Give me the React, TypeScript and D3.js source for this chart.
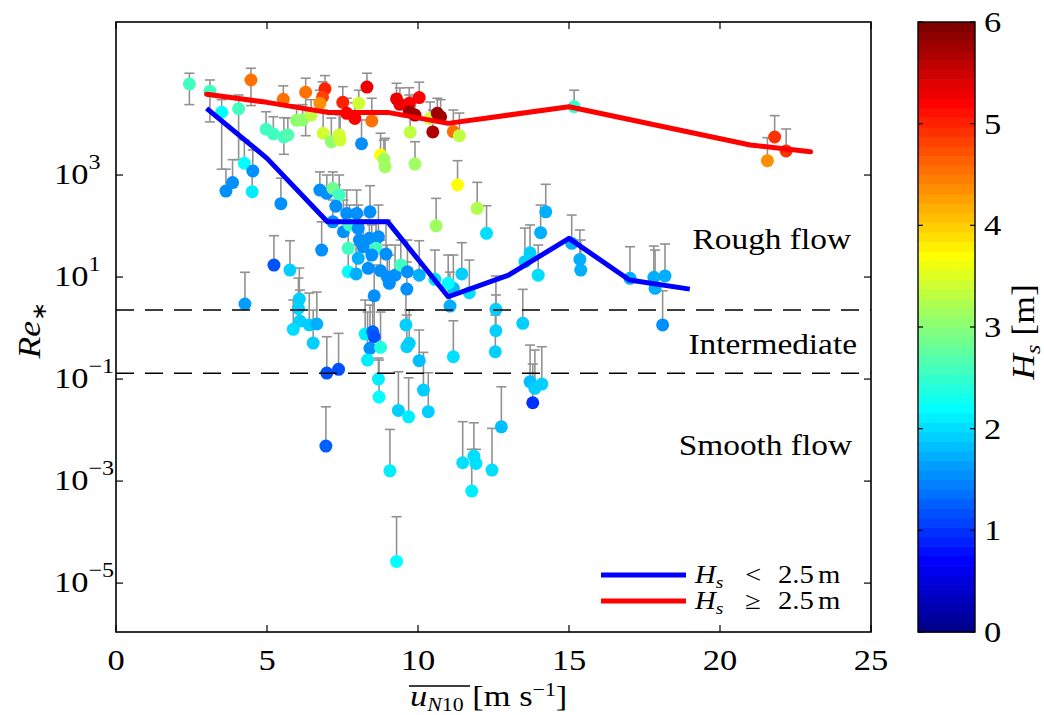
import React from "react";
import * as d3 from "d3";

// ---------- data ----------
const U = [2.43,3.11,3.50,4.06,4.47,4.25,4.53,4.51,3.86,3.64,5.46,4.97,5.21,5.56,5.69,5.54,6.28,5.98,6.18,6.46,6.92,6.84,6.75,6.86,7.13,7.39,7.42,7.51,8.04,7.91,8.31,8.13,7.64,8.47,9.29,9.40,9.71,10.04,9.71,9.90,10.40,10.64,10.75,10.49,11.17,11.37,9.74,8.76,8.91,8.87,9.90,11.31,11.96,10.60,14.23,15.17,12.27,14.06,21.81,21.57,22.19,
6.75,6.98,7.18,7.39,7.28,7.18,7.64,7.97,8.41,7.53,7.73,8.02,8.06,7.69,8.19,8.39,8.69,8.61,8.47,8.94,8.02,6.81,7.69,7.95,8.35,8.76,8.98,9.24,9.05,9.43,9.65,10.04,9.63,8.55,5.76,5.23,4.27,6.07,6.04,6.09,5.87,6.40,6.65,6.53,6.98,7.37,6.95,
8.25,8.50,8.55,8.41,8.76,8.33,8.69,8.71,9.60,9.71,9.63,10.04,9.35,9.69,10.18,10.34,9.07,9.29,11.48,11.85,11.92,11.78,12.45,12.76,13.71,13.54,13.98,15.09,15.36,15.39,17.02,17.81,17.85,18.18,18.10,11.45,11.17,11.70,11.06,11.0,10.56,12.58,12.58,12.56,13.47,11.17,13.71,13.87,14.10,13.80];
const RE = [6.1e4,4.4e4,1.7e4,2.0e4,7.3e4,1.7e3,1.2e3,470,710,485,274,7.9e3,6.4e3,5.6e3,6.1e3,3.05e4,4.2e4,1.18e4,1.2e4,1.5e4,4.9e4,3.4e4,2.55e4,6.6e3,4.5e3,6.1e3,4.85e3,2.66e4,2.55e4,1.29e4,5.3e4,4.1e3,1.62e4,1.15e4,3.1e4,2.43e4,2.55e4,3.3e4,1.74e4,1.5e4,1.29e4,1.62e4,1.39e4,7.0e3,7.1e3,5.9e3,6.9e3,2.47e3,1.46e3,2.06e3,1.64e3,637,222,101,190,2.18e4,71.9,74,5.56e3,1.91e3,2.96e3,
508,438,548,405,245,121,177,177,190,77.3,105,90.2,53.1,36.6,39.3,57.4,61.7,36.6,27.0,28.2,23.3,33.8,12.7,11.5,14.8,13.3,10.1,10.9,7.52,17.2,12.7,10.9,5.82,4.3,13.7,17.2,2.96,3.71,2.43,1.37,0.944,1.15,1.2,0.508,0.131,0.155,0.00485,
0.762,0.845,0.675,0.4,0.419,0.236,0.1,0.0444,1.15,0.501,0.43,0.229,0.0243,0.0182,0.0608,0.0229,0.00159,2.66e-5,0.00229,0.00309,0.00222,0.000637,0.00164,0.0116,29.9,20,10.9,45.8,22.2,13.7,9.44,9.86,6.0,10.5,1.15,11.5,6.0,4.92,2.7,7.52,9.02,2.33,0.885,0.343,1.24,0.274,0.0885,0.0658,0.0798,0.0343];
const HS = [2.6,2.6,2.2,2.6,4.5,2.2,1.5,2.1,1.5,1.5,1.5,2.6,2.6,2.6,2.7,4.5,4.5,3.0,3.0,3.3,5.0,4.8,4.4,3.4,3.0,3.4,3.4,5.0,3.4,5.2,5.3,1.5,5.2,4.5,5.3,5.3,5.2,5.2,5.8,5.8,3.4,5.8,5.8,5.7,4.5,3.3,3.3,3.7,3.1,3.1,3.1,3.7,3.2,3.1,1.7,2.5,2.0,1.7,4.9,4.4,4.9,
1.5,1.5,2.9,2.6,1.5,1.5,1.5,1.5,1.5,1.5,2.6,1.5,1.5,2.6,1.5,1.5,1.5,2.6,1.5,1.5,1.7,1.5,2.2,1.7,1.5,1.5,1.5,1.5,1.5,2.6,1.5,1.7,1.5,1.5,1.9,1.2,1.6,1.9,1.9,1.9,2.0,1.9,1.7,1.9,1.2,1.2,1.3,
2.1,1.3,1.2,1.5,2.4,2.1,2.1,2.2,1.9,1.9,1.9,1.8,1.9,2.1,1.9,1.9,2.1,2.2,2.0,2.0,2.0,2.1,2.0,1.8,1.9,1.9,2.0,1.7,1.7,1.7,1.7,1.7,1.7,1.7,1.5,1.9,1.8,2.0,1.7,2.2,2.0,1.9,1.9,1.9,1.9,2.0,1.8,1.9,1.9,1.0];
const RE_HI = [9.9e4,7.3e4,3.0e4,3.7e4,1.24e5,4.9e3,3.1e3,1.25e3,2.0e3,1.3e3,870,1.74e4,1.39e4,1.33e4,1.31e4,5.6e4,7.9e4,2.36e4,2.4e4,3.0e4,8.9e4,6.7e4,4.6e4,1.88e4,1.31e4,1.72e4,1.5e4,5.4e4,4.6e4,2.6e4,9.9e4,1.2e4,3.2e4,3.2e4,6.3e4,5.1e4,5.15e4,6.6e4,3.7e4,3.4e4,2.7e4,3.2e4,3.0e4,1.88e4,1.88e4,1.64e4,1.72e4,6.6e3,5.25e3,4.85e3,4.5e3,1.91e3,719,349,658,4.6e4,250,258,1.46e4,5.4e3,8.0e3,
1150,1000,1150,1000,637,324,508,508,617,324,258,258,164,105,131,206,258,131,105,131,83.5,121,42.4,42.4,53.1,53.1,42.4,42.4,27,53.1,53.1,51.5,19.7,17.2,51.5,64.6,12.4,15.0,9.55,5.56,3.54,4.85,5.08,2.25,0.675,0.787,0.0286,
3.54,4.05,3.54,2.82,2.06,2.06,0.258,0.236,5.56,2.25,1.8,0.914,0.139,0.106,0.334,0.133,0.0103,2.0e-4,0.0146,0.0139,0.00419,0.00419,0.0108,0.0707,105,91.3,42.4,164,83.5,53.1,39.3,40.5,33.8,44.4,5.38,47.1,27,21.5,12.5,27,33.8,10.5,4.44,1.8,5.74,1.39,0.464,0.371,0.43,0.197];
const RE_LO: Record<number, number> = { 0: 2.4e4, 1: 1.1e4, 2: 1.3e3, 3: 2.0e3, 4: 2.3e4, 13: 2.55e3, 16: 5.9e3 };

// binned mean lines
const LOW_U = [3, 5, 7, 9, 11, 13, 15, 17, 19];
const LOW_RE = [20300, 2120, 121, 121, 4.11, 10.9, 57.4, 8.73, 5.8];
const HIGH_U = [3, 5, 7, 9, 11, 15, 21, 23];
const HIGH_RE = [38200, 26600, 16900, 16900, 10300, 21800, 3870, 2860];

const X_TICKS = [0, 5, 10, 15, 20, 25];
const Y_TICK_EXP = [-5, -3, -1, 1, 3];
const CB_TICKS = [0, 1, 2, 3, 4, 5, 6];
const REGIME_LIMITS = [2.25, 0.13];
const REGIME_LABELS = ["Rough flow", "Intermediate", "Smooth flow"];
const LEGEND = [{ op: "<", color: "#0000ff" }, { op: "≥", color: "#ff0000" }];

// ---------- helpers ----------
function jet(m: number): string[] {
  const n = Math.ceil(m / 4);
  const u: number[] = [];
  for (let i = 1; i <= n; i++) u.push(i / n);
  for (let i = 1; i < n; i++) u.push(1);
  for (let i = n; i >= 1; i--) u.push(i / n);
  const gOff = Math.ceil(n / 2) - (m % 4 === 1 ? 1 : 0);
  const J = Array.from({ length: m }, () => [0, 0, 0]);
  u.forEach((v, k) => {
    const g = gOff + k + 1;
    const r = g + n;
    const b = g - n;
    if (g >= 1 && g <= m) J[g - 1][1] = v;
    if (r >= 1 && r <= m) J[r - 1][0] = v;
    if (b >= 1 && b <= m) J[b - 1][2] = v;
  });
  return J.map(([r, g, b]) => `rgb(${Math.round(r * 255)},${Math.round(g * 255)},${Math.round(b * 255)})`);
}
const CMAP = jet(64);
const colorOf = (h: number) => CMAP[Math.max(0, Math.min(63, Math.floor((h / 6) * 64)))];

const FONT = "'Liberation Serif', 'Times New Roman', serif";
const SX = 1.15;

function T({ x, y, size, anchor = "start", rotate = 0, children }: any) {
  return (
    <g transform={`translate(${x},${y}) rotate(${rotate}) scale(${SX},1)`}>
      <text fontFamily={FONT} fontSize={size} textAnchor={anchor}>
        {children}
      </text>
    </g>
  );
}

export default function App() {
  const L = 116, R = 871, TOP = 22, B = 632;
  const x = d3.scaleLinear().domain([0, 25]).range([L, R]);
  const y = d3.scaleLog().domain([1.1e-6, 1e6]).range([B, TOP]);
  const cb = d3.scaleLinear().domain([0, 6]).range([B, TOP]);
  const CB0 = 918, CB1 = 975;

  const line = d3.line<[number, number]>().x((d) => x(d[0])).y((d) => y(d[1]));
  const lowPath = line(LOW_U.map((u, i) => [u, LOW_RE[i]]));
  const highPath = line(HIGH_U.map((u, i) => [u, HIGH_RE[i]]));

  const cap = 5;
  const tickLen = 7;

  return (
    <svg width={1044} height={715} style={{ display: "block", position: "absolute", left: 0, top: 0 }}>
      <rect x={0} y={0} width={1044} height={715} fill="#fff" />

      {/* error bars */}
      <g stroke="#929292" strokeWidth={1.6} fill="none">
        {U.map((u, i) => {
          const cx = x(u);
          const lo = RE_LO[i];
          const y0 = y(lo !== undefined ? lo : RE[i]);
          const y1 = y(RE_HI[i]);
          return (
            <g key={i}>
              <line x1={cx} x2={cx} y1={y0} y2={y1} />
              <line x1={cx - cap} x2={cx + cap} y1={y1} y2={y1} />
              {lo !== undefined && <line x1={cx - cap} x2={cx + cap} y1={y0} y2={y0} />}
            </g>
          );
        })}
      </g>

      {/* scatter points */}
      <g>
        {U.map((u, i) => (
          <circle key={i} cx={x(u)} cy={y(RE[i])} r={6.5} fill={colorOf(HS[i])} />
        ))}
      </g>

      {/* mean lines */}
      <path d={lowPath || ""} fill="none" stroke="#0000ff" strokeWidth={5} strokeLinejoin="round" />
      <path d={highPath || ""} fill="none" stroke="#ff0000" strokeWidth={5} strokeLinejoin="round" strokeLinecap="round" />

      {/* regime limits */}
      {REGIME_LIMITS.map((v, i) => (
        <line key={i} x1={L} x2={R} y1={y(v)} y2={y(v)} stroke="#000" strokeWidth={1.5} strokeDasharray="18 11" />
      ))}

      {/* regime labels */}
      <T x={851} y={249} size={29} anchor="end">{REGIME_LABELS[0]}</T>
      <T x={857} y={354} size={29} anchor="end">{REGIME_LABELS[1]}</T>
      <T x={852} y={455} size={29} anchor="end">{REGIME_LABELS[2]}</T>

      {/* legend */}
      {LEGEND.map((d, i) => {
        const ly = 575 + i * 26;
        return (
          <g key={i}>
            <line x1={601} x2={686} y1={ly} y2={ly} stroke={d.color} strokeWidth={5} />
            <T x={695} y={ly + 8} size={25}>
              <tspan fontStyle="italic">H</tspan>
              <tspan fontStyle="italic" fontSize={17} dy={5}>s</tspan>
            </T>
            <T x={745} y={ly + 8} size={25}>{d.op}</T>
            <T x={778} y={ly + 8} size={25}>2.5</T>
            <T x={818} y={ly + 8} size={25}>m</T>
          </g>
        );
      })}

      {/* axes frame */}
      <rect x={L} y={TOP} width={R - L} height={B - TOP} fill="none" stroke="#000" strokeWidth={1.6} />
      {X_TICKS.map((t) => (
        <g key={t}>
          <line x1={x(t)} x2={x(t)} y1={B} y2={B - tickLen} stroke="#000" strokeWidth={1.2} />
          <line x1={x(t)} x2={x(t)} y1={TOP} y2={TOP + tickLen} stroke="#000" strokeWidth={1.2} />
          <T x={x(t)} y={670} size={30} anchor="middle">{String(t)}</T>
        </g>
      ))}
      {Y_TICK_EXP.map((e) => {
        const yy = y(Math.pow(10, e));
        return (
          <g key={e}>
            <line x1={L} x2={L + tickLen} y1={yy} y2={yy} stroke="#000" strokeWidth={1.2} />
            <line x1={R} x2={R - tickLen} y1={yy} y2={yy} stroke="#000" strokeWidth={1.2} />
            <T x={54} y={yy + 9} size={30}>
              <tspan>10</tspan>
              <tspan fontSize={21} dy={-15}>{e < 0 ? "−" + Math.abs(e) : String(e)}</tspan>
            </T>
          </g>
        );
      })}

      {/* axis labels */}
      <T x={40} y={330} size={31} anchor="middle" rotate={-90}>
        <tspan fontStyle="italic">Re</tspan>
        <tspan fontSize={20} dy={6}>∗</tspan>
      </T>
      <g>
        <line x1={409} x2={470} y1={686} y2={686} stroke="#000" strokeWidth={1.3} />
        <T x={410} y={706} size={30}>
          <tspan fontStyle="italic">u</tspan>
          <tspan fontStyle="italic" fontSize={19} dy={5}>N</tspan>
          <tspan fontSize={19}>10</tspan>
          <tspan dy={-5}> [m s</tspan>
          <tspan fontSize={19} dy={-10}>−1</tspan>
          <tspan dy={10}>]</tspan>
        </T>
      </g>

      {/* colorbar */}
      <g>
        {CMAP.map((c, i) => (
          <rect key={i} x={CB0} width={CB1 - CB0} y={cb(((i + 1) * 6) / 64)} height={cb((i * 6) / 64) - cb(((i + 1) * 6) / 64) + 0.6} fill={c} />
        ))}
        <rect x={CB0} y={TOP} width={CB1 - CB0} height={B - TOP} fill="none" stroke="#000" strokeWidth={1.4} />
        {CB_TICKS.map((t) => (
          <g key={t}>
            <line x1={CB0} x2={CB0 + 5} y1={cb(t)} y2={cb(t)} stroke="#000" strokeWidth={1.2} />
            <line x1={CB1} x2={CB1 - 5} y1={cb(t)} y2={cb(t)} stroke="#000" strokeWidth={1.2} />
            <T x={984} y={cb(t) + 10} size={30}>{String(t)}</T>
          </g>
        ))}
        <T x={1034} y={332} size={31} anchor="middle" rotate={-90}>
          <tspan fontStyle="italic">H</tspan>
          <tspan fontStyle="italic" fontSize={21} dy={6}>s</tspan>
          <tspan dy={-6}> [m]</tspan>
        </T>
      </g>
    </svg>
  );
}
